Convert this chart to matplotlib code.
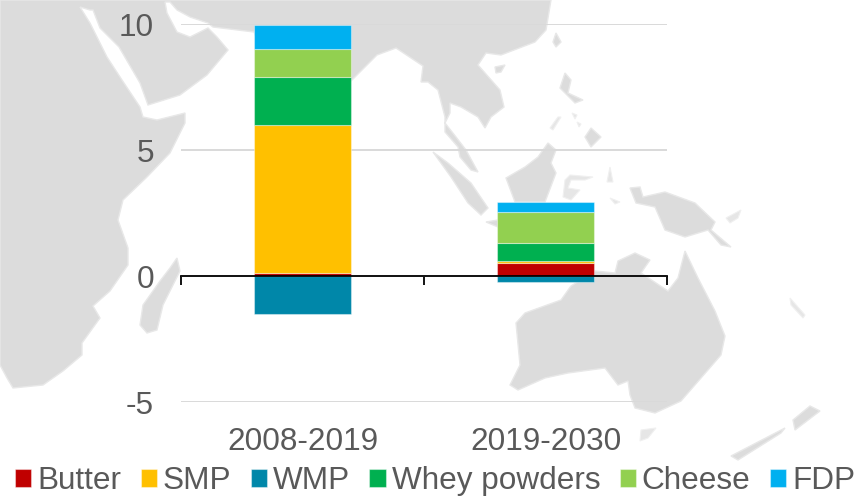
import numpy as np
import matplotlib
matplotlib.use("Agg")
import matplotlib.pyplot as plt
from matplotlib.patches import Polygon

plt.rcParams['font.family'] = ['Liberation Sans', 'DejaVu Sans']

# Chart data
periods = ["2008-2019", "2019-2030"]
products = ["Butter", "SMP", "WMP", "Whey powders", "Cheese", "FDP"]
butter = [0.13, 0.53]
smp = [5.87, 0.07]
wmp = [-1.5, -0.23]
whey = [1.91, 0.71]
cheese = [1.09, 1.23]
fdp = [0.95, 0.41]
colors = ['#C00000', '#FFC000', '#0087A9', '#00B050', '#92D050', '#00B0F0']
y_ticks = [-5, 0, 5, 10]
y_labels = ["-5", "0", "5", "10"]

# Background map outlines, in picture pixels
asia_africa = [(0, 0), (551, 0), (546, 30), (535, 42), (501, 55), (486, 53), (478, 65), (500, 90), (504, 107),
               (491, 117), (485, 128), (478, 117), (461, 107), (450, 103), (450, 113), (445, 123), (456, 137),
               (466, 150), (478, 172), (471, 170), (460, 157), (458, 147), (445, 132), (445, 117), (438, 90),
               (428, 82), (421, 82), (423, 66), (396, 48), (377, 55), (352, 80), (310, 120), (265, 60), (254, 32),
               (213, 27), (208, 23), (190, 17), (177, 10), (170, 2), (165, 2), (167, 13), (177, 32), (190, 37),
               (200, 32), (208, 28), (217, 37), (228, 50), (207, 75), (180, 95), (148, 105), (140, 83), (119, 47),
               (100, 28), (93, 10), (90, 10), (80, 7), (90, 23), (107, 57), (122, 80), (140, 107), (143, 117),
               (157, 120), (185, 113), (185, 123), (170, 153), (147, 177), (123, 200), (118, 220), (128, 248),
               (128, 265), (110, 291), (93, 306), (100, 318), (82, 343), (82, 355), (63, 371), (43, 385), (13, 388),
               (7, 378), (0, 365)]
madagascar = [(177, 258), (180, 271), (163, 305), (157, 330), (147, 333), (140, 325), (143, 305), (160, 281), (170, 268)]
sumatra = [(433, 152), (448, 163), (471, 183), (488, 208), (481, 215), (468, 203), (451, 177)]
borneo = [(548, 143), (556, 150), (551, 163), (556, 173), (545, 202), (515, 202), (506, 178), (525, 167), (538, 157)]
java = [(486, 222), (498, 220), (498, 227)]
hainan = [(495, 67), (505, 65), (501, 72), (496, 73)]
taiwan = [(556, 33), (561, 42), (556, 47), (553, 42)]
luzon = [(565, 73), (571, 80), (568, 93), (583, 100), (575, 103), (560, 88)]
mindanao = [(591, 128), (601, 137), (591, 147), (585, 137)]
new_guinea = [(630, 188), (640, 187), (643, 197), (665, 192), (695, 203), (715, 222), (711, 230), (731, 247), (721, 245),
              (708, 230), (685, 237), (665, 230), (655, 207), (636, 203)]
australia = [(685, 251), (698, 278), (715, 311), (725, 336), (721, 355), (701, 378), (681, 401), (655, 413), (635, 408),
             (630, 395), (628, 381), (618, 385), (605, 368), (568, 373), (545, 378), (518, 390), (510, 385), (520, 365),
             (516, 323), (525, 313), (561, 300), (571, 286), (595, 271), (615, 273), (618, 261), (635, 253), (650, 260),
             (641, 273), (668, 291), (678, 278)]
nz_south = [(731, 456), (785, 428), (781, 433), (738, 460)]
nz_north = [(793, 420), (810, 406), (820, 411), (795, 430)]
land = [asia_africa, madagascar, sumatra, borneo, java, hainan, taiwan, luzon, mindanao, new_guinea, australia,
        nz_south, nz_north]

# Small islands come out faint in the reference
sulawesi = [(565, 180), (570, 175), (593, 177), (585, 180), (571, 180), (568, 188), (580, 190), (571, 200), (563, 197)]
palawan = [(561, 117), (553, 130), (550, 128), (558, 117)]
visayas = [(572, 113), (577, 115), (575, 119)]
negros = [(577, 122), (581, 124), (579, 127)]
new_britain = [(726, 218), (741, 210), (738, 218), (730, 223)]
halmahera = [(610, 167), (613, 182), (607, 182)]
seram = [(610, 198), (620, 202), (615, 204)]
tasmania = [(641, 430), (656, 428), (648, 438), (640, 441)]
caledonia = [(790, 298), (805, 315), (803, 318), (791, 305)]
faint_land = [sulawesi, palawan, visayas, negros, new_britain, halmahera, seram, tasmania, caledonia]

fig = plt.figure(figsize=(8.56, 4.96), dpi=100)

# Map layer, one unit is one pixel
bg = fig.add_axes([0, 0, 1, 1])
bg.set_xlim(0, 856)
bg.set_ylim(496, 0)
bg.axis('off')
for outline in land:
    bg.add_patch(Polygon(outline, closed=True, facecolor='#dcdcdc', edgecolor='#e8e8e8', linewidth=1.0))
for outline in faint_land:
    bg.add_patch(Polygon(outline, closed=True, facecolor='#e6e6e6', edgecolor='#f0f0f0', linewidth=0.8))

# Chart layer
ax = fig.add_axes([181 / 856, 1 - 402 / 496, 486 / 856, 378 / 496])
ax.patch.set_alpha(0)

x = np.array([0.5, 1.5])
pos_base = np.zeros(2)
neg_base = np.zeros(2)
series = [butter, smp, wmp, whey, cheese, fdp]
handles = []
for name, vals, col in zip(products, series, colors):
    vals = np.array(vals)
    base = np.where(vals >= 0, pos_base, neg_base)
    b = ax.bar(x, vals, width=0.4, bottom=base, color=col, edgecolor=(1, 1, 1, 0.4), linewidth=0.8, label=name, zorder=2)
    handles.append(b)
    pos_base = pos_base + np.clip(vals, 0, None)
    neg_base = neg_base + np.clip(vals, None, 0)

ax.set_xlim(0, 2)
ax.set_ylim(-5, 10)
for side in ['top', 'right', 'left']:
    ax.spines[side].set_visible(False)
ax.spines['bottom'].set_position(('data', 0))
ax.spines['bottom'].set_linewidth(1.3)
ax.spines['bottom'].set_zorder(3)
ax.set_xticks([0, 1, 2])
ax.set_xticklabels([])
ax.tick_params(axis='x', direction='out', length=6.5, width=1.3, color='black')
ax.set_yticks(y_ticks)
ax.set_yticklabels(y_labels)
ax.tick_params(axis='y', length=0, pad=19.5, labelsize=22.7, labelcolor='#595959')
ax.yaxis.grid(True, color='#d9d9d9', linewidth=1.4, zorder=1)
ax.set_axisbelow(True)

for pos, label in zip(x, periods):
    ax.text(pos, -6.6, label, ha='center', va='center', fontsize=22.7, color='#595959', clip_on=False)

fig.legend(handles=handles, ncol=6, loc='center left', bbox_to_anchor=(15 / 856, 1 - 481 / 496), frameon=False,
           fontsize=22.7, labelcolor='#595959', handlelength=0.51, handleheight=0.51, handletextpad=0.19,
           columnspacing=0.62, borderpad=0, borderaxespad=0)

fig.savefig('out.png', dpi=100)
